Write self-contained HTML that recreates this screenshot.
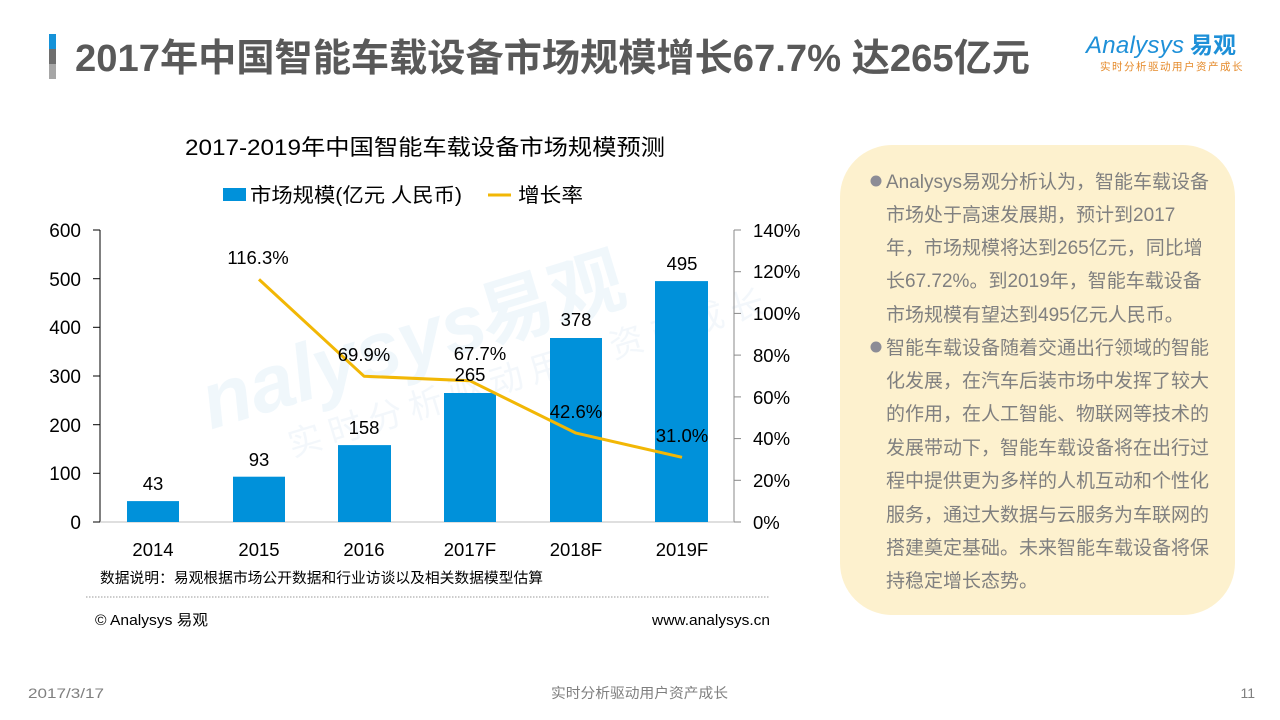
<!DOCTYPE html>
<html>
<head>
<meta charset="utf-8">
<style>
  html,body{margin:0;padding:0;background:#fff;}
  body{width:1280px;height:720px;overflow:hidden;position:relative;}
  svg{position:absolute;left:0;top:0;}
  .cn{font-family:"Liberation Sans","Noto Sans CJK SC",sans-serif;}
</style>
</head>
<body>
<svg width="1280" height="720" viewBox="0 0 1280 720" xmlns="http://www.w3.org/2000/svg" class="cn">
  <!-- header bar -->
  <rect x="49" y="34" width="7" height="15" fill="#1592D8"/>
  <rect x="49" y="49" width="7" height="15" fill="#6E6E6E"/>
  <rect x="49" y="64" width="7" height="15" fill="#A6A6A6"/>
  <text x="75" y="71" font-size="38" font-weight="bold" fill="#595959" textLength="955" lengthAdjust="spacingAndGlyphs">2017年中国智能车载设备市场规模增长67.7% 达265亿元</text>

  <!-- logo -->
  <text x="1086" y="53" font-size="24" fill="#1E90D8" font-style="italic" font-family="Liberation Sans, sans-serif" textLength="98">Analysys</text>
  <text x="1190" y="53" font-size="23" font-weight="bold" fill="#1E90D8" font-family="Noto Sans CJK SC, sans-serif">易观</text>
  <text x="1100" y="70" font-size="10.5" fill="#E58A2A" letter-spacing="1.5" font-family="Noto Sans CJK SC, sans-serif">实时分析驱动用户资产成长</text>

  <!-- watermark -->
  <g transform="rotate(-17 400 330)" opacity="0.35">
    <text x="190" y="370" font-size="80" font-weight="bold" font-style="italic" fill="#D6E9F6" font-family="Liberation Sans, sans-serif">nalysys</text>
    <text x="480" y="370" font-size="74" font-weight="bold" fill="#D6E9F6" font-family="Noto Sans CJK SC, sans-serif">易观</text>
    <text x="260" y="420" font-size="34" fill="#DDEBF5" letter-spacing="8" font-family="Noto Sans CJK SC, sans-serif">实时分析驱动用户资产成长</text>
  </g>

  <!-- chart title -->
  <text x="185" y="155" font-size="22" fill="#000" textLength="480" lengthAdjust="spacingAndGlyphs">2017-2019年中国智能车载设备市场规模预测</text>

  <!-- legend -->
  <rect x="223" y="188" width="23" height="13" fill="#0091DA"/>
  <text x="250" y="202" font-size="20" fill="#000" textLength="212" lengthAdjust="spacingAndGlyphs">市场规模(亿元 人民币)</text>
  <line x1="488" y1="195" x2="511" y2="195" stroke="#F2B705" stroke-width="3"/>
  <text x="518" y="202" font-size="20" fill="#000" textLength="65" lengthAdjust="spacingAndGlyphs">增长率</text>

  <!-- axes -->
  <line x1="100" y1="230" x2="100" y2="522" stroke="#000" stroke-width="1"/>
  <line x1="734" y1="230" x2="734" y2="522" stroke="#888" stroke-width="1"/>
  <line x1="100" y1="522" x2="734" y2="522" stroke="#BFBFBF" stroke-width="1"/>
  <g stroke="#000" stroke-width="1">
    <line x1="93" y1="230" x2="100" y2="230"/>
    <line x1="93" y1="278.7" x2="100" y2="278.7"/>
    <line x1="93" y1="327.3" x2="100" y2="327.3"/>
    <line x1="93" y1="376" x2="100" y2="376"/>
    <line x1="93" y1="424.7" x2="100" y2="424.7"/>
    <line x1="93" y1="473.3" x2="100" y2="473.3"/>
    <line x1="93" y1="522" x2="100" y2="522"/>
  </g>
  <g stroke="#888" stroke-width="1">
    <line x1="734" y1="230" x2="741" y2="230"/>
    <line x1="734" y1="271.7" x2="741" y2="271.7"/>
    <line x1="734" y1="313.4" x2="741" y2="313.4"/>
    <line x1="734" y1="355.1" x2="741" y2="355.1"/>
    <line x1="734" y1="396.9" x2="741" y2="396.9"/>
    <line x1="734" y1="438.6" x2="741" y2="438.6"/>
    <line x1="734" y1="480.3" x2="741" y2="480.3"/>
    <line x1="734" y1="522" x2="741" y2="522"/>
  </g>

  <!-- left tick labels -->
  <g font-size="19" fill="#000" text-anchor="end" font-family="Liberation Sans, sans-serif">
    <text x="81" y="237">600</text>
    <text x="81" y="286">500</text>
    <text x="81" y="334">400</text>
    <text x="81" y="383">300</text>
    <text x="81" y="432">200</text>
    <text x="81" y="480">100</text>
    <text x="81" y="529">0</text>
  </g>
  <!-- right tick labels -->
  <g font-size="18.5" fill="#000" font-family="Liberation Sans, sans-serif">
    <text x="753" y="237">140%</text>
    <text x="753" y="278">120%</text>
    <text x="753" y="320">100%</text>
    <text x="753" y="362">80%</text>
    <text x="753" y="404">60%</text>
    <text x="753" y="445">40%</text>
    <text x="753" y="487">20%</text>
    <text x="753" y="529">0%</text>
  </g>

  <!-- bars -->
  <g fill="#0091DA">
    <rect x="127" y="501.1" width="52" height="20.9"/>
    <rect x="233" y="476.7" width="52" height="45.3"/>
    <rect x="338" y="445.1" width="53" height="76.9"/>
    <rect x="444" y="393" width="52" height="129"/>
    <rect x="550" y="338" width="52" height="184"/>
    <rect x="655" y="281.1" width="53" height="240.9"/>
  </g>

  <!-- line -->
  <polyline points="259,279.4 364,376.2 470,380.8 576,433.1 682,457.3" fill="none" stroke="#F2B705" stroke-width="3" stroke-linejoin="round"/>

  <!-- bar labels -->
  <g font-size="18.5" fill="#000" text-anchor="middle" font-family="Liberation Sans, sans-serif">
    <text x="153" y="490">43</text>
    <text x="259" y="466">93</text>
    <text x="364" y="434">158</text>
    <text x="470" y="381">265</text>
    <text x="576" y="326">378</text>
    <text x="682" y="270">495</text>
  </g>
  <!-- line labels -->
  <g font-size="18.5" fill="#000" text-anchor="middle" font-family="Liberation Sans, sans-serif">
    <text x="258" y="264">116.3%</text>
    <text x="364" y="361">69.9%</text>
    <text x="480" y="360">67.7%</text>
    <text x="576" y="418">42.6%</text>
    <text x="682" y="442">31.0%</text>
  </g>

  <!-- x labels -->
  <g font-size="18.5" fill="#000" text-anchor="middle" font-family="Liberation Sans, sans-serif">
    <text x="153" y="556">2014</text>
    <text x="259" y="556">2015</text>
    <text x="364" y="556">2016</text>
    <text x="470" y="556">2017F</text>
    <text x="576" y="556">2018F</text>
    <text x="682" y="556">2019F</text>
  </g>

  <!-- source note -->
  <text x="100" y="583" font-size="14.5" fill="#000" textLength="443" lengthAdjust="spacingAndGlyphs">数据说明：易观根据市场公开数据和行业访谈以及相关数据模型估算</text>
  <line x1="86" y1="597" x2="770" y2="597" stroke="#999" stroke-width="1" stroke-dasharray="1.5,1.5"/>
  <text x="95" y="625" font-size="15" fill="#000" textLength="113" lengthAdjust="spacingAndGlyphs">© Analysys 易观</text>
  <text x="652" y="625" font-size="15" fill="#000" textLength="118" lengthAdjust="spacingAndGlyphs">www.analysys.cn</text>

  <!-- right box -->
  <rect x="840" y="145" width="395" height="470" rx="52" ry="52" fill="#FDF1CE"/>
  <circle cx="876" cy="181" r="5.5" fill="#8C8C96"/>
  <circle cx="876" cy="347" r="5.5" fill="#8C8C96"/>
  <g font-size="19" fill="#808080">
    <text x="886" y="188">Analysys易观分析认为，智能车载设备</text>
    <text x="886" y="221">市场处于高速发展期，预计到2017</text>
    <text x="886" y="254">年，市场规模将达到265亿元，同比增</text>
    <text x="886" y="287">长67.72%。到2019年，智能车载设备</text>
    <text x="886" y="321">市场规模有望达到495亿元人民币。</text>
    <text x="886" y="354">智能车载设备随着交通出行领域的智能</text>
    <text x="886" y="387">化发展，在汽车后装市场中发挥了较大</text>
    <text x="886" y="420">的作用，在人工智能、物联网等技术的</text>
    <text x="886" y="454">发展带动下，智能车载设备将在出行过</text>
    <text x="886" y="487">程中提供更为多样的人机互动和个性化</text>
    <text x="886" y="521">服务，通过大数据与云服务为车联网的</text>
    <text x="886" y="554">搭建奠定基础。未来智能车载设备将保</text>
    <text x="886" y="587">持稳定增长态势。</text>
  </g>

  <!-- footer -->
  <text x="28" y="698" font-size="14" fill="#7F7F7F" textLength="76" lengthAdjust="spacingAndGlyphs">2017/3/17</text>
  <text x="551" y="698" font-size="14" fill="#7F7F7F" textLength="177" lengthAdjust="spacingAndGlyphs">实时分析驱动用户资产成长</text>
  <text x="1255" y="698" font-size="14" fill="#7F7F7F" text-anchor="end">11</text>
</svg>
</body>
</html>
